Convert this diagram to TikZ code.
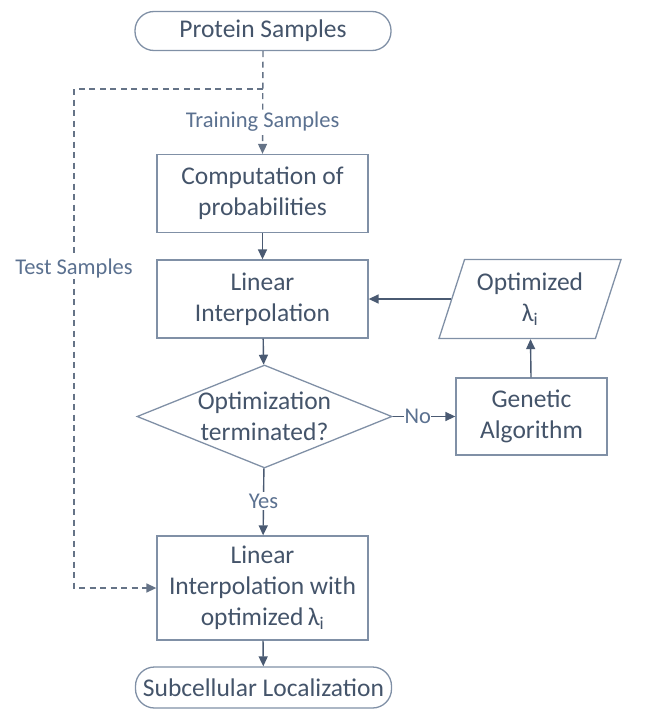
\documentclass[tikz,border=0pt]{standalone}
\usepackage{fontspec}
\setmainfont{Carlito}
\usetikzlibrary{arrows.meta,shapes.geometric}
\definecolor{txt}{HTML}{44546A}
\definecolor{lbl}{HTML}{5B7190}
\definecolor{edge}{HTML}{8090A6}
\definecolor{arr}{HTML}{4A5A72}
\tikzset{
  base/.style={draw=edge, line width=1.3pt, text=txt, align=center, inner sep=0pt,
    font=\fontsize{25.5}{31}\selectfont},
  procbox/.style={base, rectangle, minimum width=211pt, minimum height=78pt},
  term/.style={base, rounded corners=19pt, minimum width=256pt, minimum height=39pt},
  decision/.style={base, diamond, shape aspect=2.48, minimum width=255pt, minimum height=103pt},
  iobox/.style={base, trapezium, trapezium left angle=64, trapezium right angle=116,
    trapezium stretches body, minimum width=182pt, minimum height=79pt},
  lab/.style={text=lbl, fill=white, inner sep=1.5pt, font=\fontsize{22.5}{26}\selectfont},
  conn/.style={draw=arr, line width=1.4pt, -{Triangle[length=10pt,width=9pt]}},
  dconn/.style={conn, draw=arr!85!white, dash pattern=on 6pt off 4.5pt},
}
\newcommand{\lam}{λ\textsubscript{i}}
\begin{document}
\begin{tikzpicture}[x=1pt,y=-1pt]
\useasboundingbox (0,0) rectangle (656,712);
\node[term] (ps) at (263,31) {Protein Samples};
\node[procbox] (comp) at (262.5,193.5) {Computation of\\probabilities};
\node[procbox] (li) at (262.5,299) {Linear\\Interpolation};
\node[decision] (dec) at (264.5,416.5) {Optimization\\terminated?};
\node[base, rectangle, minimum width=151pt, minimum height=77pt] (ga) at (531.5,416.5) {Genetic\\Algorithm};
\node[iobox] (opt) at (530,299) {Optimized\\\lam};
\node[procbox, minimum height=104pt] (fin) at (262.5,588) {Linear\\Interpolation with\\optimized\,\lam};
\node[term, minimum height=41pt] (sub) at (263.5,687.5) {Subcellular Localization};

\coordinate (br) at (263,89);
\coordinate (tl) at (74,89);
\coordinate (bl) at (74,588);

\draw[dconn] (ps.south) -- node[lab, pos=0.69] {Training Samples} (comp.north);
\draw[dconn] (br) -- (tl) -- node[lab, pos=0.359] {Test Samples} (bl) -- (fin.west);
\draw[conn] (comp) -- (li);
\draw[conn] (li) -- (dec);
\draw[conn] (dec) -- node[lab, pos=0.4, inner sep=0.5pt] {No} (ga);
\draw[conn] (ga) -- (opt);
\draw[conn] (opt.west |- opt.center) -- (li.east);
\draw[conn] (dec) -- node[lab, pos=0.49] {Yes} (fin);
\draw[conn] (fin) -- (sub);
\end{tikzpicture}
\end{document}
